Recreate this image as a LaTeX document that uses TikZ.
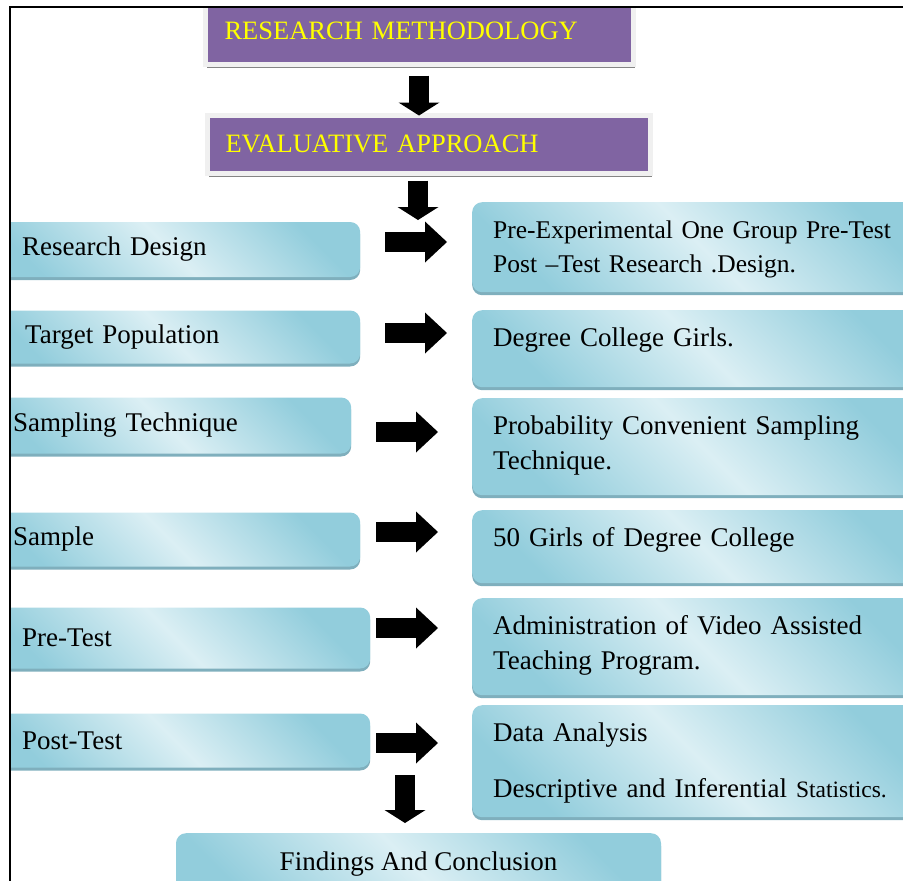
\documentclass[tikz,border=0pt]{standalone}
\usepackage{fontspec}
\setmainfont{Liberation Serif}
\usetikzlibrary{arrows.meta, shadows}
\definecolor{mpurple}{RGB}{128, 100, 162}
\definecolor{myellow}{RGB}{255, 255, 0}
\definecolor{aqedge}{RGB}{146, 205, 220}
\definecolor{aqmid}{RGB}{219, 239, 244}
\definecolor{aqshadow}{RGB}{95, 155, 172}
\tikzstyle{headbox} = [fill=mpurple, draw=black!6, line width=5pt, text=myellow,
                       font=\fontsize{26.5}{32}\selectfont, align=left, anchor=north west, inner ysep=0pt,
                       drop shadow={shadow xshift=1.5pt, shadow yshift=-3.5pt, fill=black!60, opacity=.8}]
\tikzstyle{aqua} = [rounded corners=10pt, top color=aqedge, bottom color=aqedge, middle color=aqmid,
                    shading angle=-45, font=\fontsize{27}{35}\selectfont,
                    drop shadow={shadow xshift=0pt, shadow yshift=-3pt, fill=aqshadow, opacity=.8}]
\tikzstyle{lbox} = [aqua, anchor=west, align=left]
\tikzstyle{rbox} = [aqua, anchor=north west, align=left, inner xsep=21pt, inner ysep=0pt,
                    text width=418pt, text height=36pt]
\tikzstyle{fbox} = [aqua, anchor=north, minimum width=485pt, inner ysep=0pt, text height=37pt, text depth=40pt]
\tikzstyle{rarrow} = [line width=20pt, -{Triangle[width=41pt, length=22pt, line width=0pt]}]
\tikzstyle{darrow} = [line width=20pt, -{Triangle[width=41pt, length=13pt, line width=0pt]}]

\begin{document}
\begin{tikzpicture}[x=1pt, y=-1pt]
\useasboundingbox (0,0) rectangle (903,881);
\begin{scope}
\clip (10,7) rectangle (903,881);
% top of the chart
\node[headbox, inner xsep=19.5pt, text width=389pt, text height=42pt, text depth=24.5pt] (rm) at (202.5,-5) {RESEARCH METHODOLOGY};
\node[headbox, inner xsep=18.5pt, text width=406pt, text height=37.5pt, text depth=20.5pt] (ea) at (204.5,112.5) {EVALUATIVE APPROACH};
% left column
\node[lbox, inner xsep=42pt, text width=296pt, minimum height=55pt] (rd) at (-20,249.5) {Research Design};
\node[lbox, inner xsep=45pt, text width=290pt, minimum height=53pt] (tp) at (-20,337) {Target Population};
\node[lbox, inner xsep=33pt, text width=305pt, minimum height=56pt] (st) at (-20,425.5) {Sampling Technique};
\node[lbox, inner xsep=33pt, text width=314pt, minimum height=54pt] (sm) at (-20,539.5) {Sample};
\node[lbox, inner xsep=42pt, text width=306pt, minimum height=61pt] (pr) at (-20,638) {Pre-Test};
\node[lbox, inner xsep=42pt, text width=306pt, minimum height=54pt] (po) at (-20,740.5) {Post-Test};
% right column
\node[rbox, text depth=54pt, font=\fontsize{25.5}{34}\selectfont] (pe) at (472,202) {Pre-Experimental One Group Pre-Test\\Post --Test Research .Design.};
\node[rbox, text depth=41pt] (dc) at (472,310) {Degree College Girls.};
\node[rbox, text depth=61pt] (pc) at (472,398) {Probability Convenient Sampling\\Technique.};
\node[rbox, text depth=37pt] (gs) at (472,510) {50 Girls of Degree College};
\node[rbox, text depth=61pt] (av) at (472,598) {Administration of Video Assisted\\Teaching Program.};
\node[rbox, text depth=76pt] (an) at (472,705) {Data Analysis\\[21pt]Descriptive and Inferential {\fontsize{23.5}{26}\selectfont Statistics.}};
\node[fbox] (fd) at (418.5,833) {Findings And Conclusion};
% block arrows
\coordinate (dd) at (418,220);
\coordinate (du) at (405,775);
\draw[darrow, shorten <=9pt, shorten >=-3pt] (rm.south) -- (rm.south |- ea.north);
\draw[darrow, shorten <=5pt] (ea.south -| dd) -- (dd);
\draw[rarrow, shorten <=25pt, shorten >=25pt] ([yshift=7.5pt]rd.east) -- ([yshift=7.5pt]rd.east -| pe.west);
\draw[rarrow, shorten <=25pt, shorten >=25pt] ([yshift=4pt]tp.east) -- ([yshift=4pt]tp.east -| dc.west);
\draw[rarrow, shorten <=25pt, shorten >=34pt] ([yshift=-6.5pt]st.east) -- ([yshift=-6.5pt]st.east -| pc.west);
\draw[rarrow, shorten <=16pt, shorten >=34pt] ([yshift=7.5pt]sm.east) -- ([yshift=7.5pt]sm.east -| gs.west);
\draw[rarrow, shorten <=6pt, shorten >=34pt] ([yshift=10pt]pr.east) -- ([yshift=10pt]pr.east -| av.west);
\draw[rarrow, shorten <=6pt, shorten >=34pt] ([yshift=-2.5pt]po.east) -- ([yshift=-2.5pt]po.east -| an.west);
\draw[darrow, shorten >=10pt] (du) -- (du |- fd.north);
\end{scope}
\draw[line width=1.5pt] (904,7) -- (9.75,7) -- (9.75,882);
\end{tikzpicture}
\end{document}
